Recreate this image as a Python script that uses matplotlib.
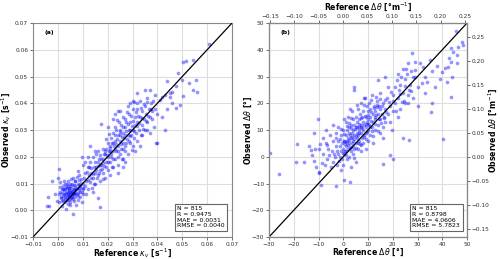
import matplotlib
matplotlib.use("Agg")
import matplotlib.pyplot as plt

# ---------------- data ----------------
# panel (a): kappa_v points, in units of 1e-3 s^-1 (reference, observed)
kv_pts_milli = [
    (-4.5, 1.6), (-3.5, 1.6), (-4.1, 5.1), (-2.2, 10.9), (0.6, 15.4), (-1.0, 6.0), (-0.5, 3.5),
    (0.5, 6), (1, 7), (1.2, 5), (1.5, 8), (1.8, 6.5), (2, 4), (2, 9), (2.3, 6), (2.5, 7.5),
    (2.8, 5), (3, 3), (3, 8), (3.2, 6.5), (3.5, 10), (3.5, 5), (3.8, 7), (4, 4), (4, 6),
    (4, 9), (4.2, 11), (4.5, 5.5), (4.5, 7.5), (4.8, 3), (5, 6), (5, 8.5), (5.2, 4.5),
    (5.5, 7), (5.5, 10), (5.8, 5), (6, 6), (6, 12), (6.2, 8), (6.5, 3.5), (6.5, 6.5),
    (6.8, 9), (7, 5), (7, 7.5), (7, 11), (7.3, 2), (7.5, 6), (7.8, 8.5), (8, 4), (8, 10),
    (8.2, 6.5), (8.5, 13), (8.5, 7.5), (9, 5), (9, 9), (9.3, 11.5), (9.5, 7), (9.8, 3),
    (10, 10), (10, 6), (1, 10.5), (0.3, 3), (2.5, 11), (5, 2), (6, -1.5), (3.3, 0.5),
    (1.5, 1.5), (0.2, 12), (3, 6), (4.5, 6.5), (5.5, 5.5), (6.5, 8), (2, 5.5), (7, 6.5),
    (3.8, 8.3), (4.8, 9.8), (5.8, 7.2), (8.8, 8.2),
    (1.5, 3.5), (2.2, 7.8), (2.7, 4.2), (3.4, 8.8), (3.9, 5.2), (4.3, 7.2), (4.7, 4.2),
    (5.1, 9.2), (5.6, 6.2), (6.1, 4.2), (6.4, 9.6), (6.9, 6.1), (7.4, 8.1), (7.9, 5.4),
    (8.4, 9.4), (8.9, 6.7), (9.4, 10.2), (9.9, 8.4), (2.9, 9.7), (1.3, 4.5), (4.1, 2.2),
    (5.4, 11.5), (7.6, 12.5), (10.3, 8.1), (3.6, 3.9), (6.7, 10.8), (0.9, 8.8), (8.6, 11.3),
    (5.3, 6.9), (4.4, 8.4),
    (10.5, 12), (11, 9), (11, 14), (11.5, 11), (12, 8), (12, 16), (12.5, 13), (13, 10.5),
    (13, 18), (13.5, 14), (14, 12), (14, 20), (14.5, 16), (15, 10), (15, 14), (15, 18),
    (15.5, 21), (16, 13), (16, 16.5), (16.5, 19), (17, 11), (17, 15), (17, 20.5),
    (17.5, 17), (18, 14), (18, 19), (18, 23), (18.5, 16.5), (19, 21), (19, 12), (19.5, 18),
    (20, 15), (20, 20), (20, 25), (12, 20), (16, 4.5), (17, 1.3), (14, 7), (11, 18),
    (13, 24), (17.3, 32.1), (9.5, 20), (8, 14.5), (10, 17), (11.5, 6), (13.5, 12),
    (14.5, 10), (15.5, 15), (16.5, 14), (18.5, 21), (12.5, 16), (19.5, 23),
    (12.3, 11.2), (13.2, 15.7), (14.3, 13.7), (15.2, 16.2), (15.8, 12.2), (16.3, 18.2),
    (16.8, 16.8), (17.3, 19.3), (17.8, 15.3), (18.3, 17.7), (18.8, 22.1), (19.3, 16.1),
    (19.8, 20.8), (14.8, 22.3), (11.8, 14.2), (13.7, 8.3), (16.2, 22.1), (18.1, 11.6),
    (20.5, 22), (21, 18), (21, 24), (21.5, 20), (21.5, 27), (22, 16), (22, 22), (22, 29),
    (22.5, 24), (23, 19), (23, 26), (23, 31), (23.5, 22), (24, 17), (24, 24), (24, 28),
    (24.5, 33), (25, 21), (25, 26), (25, 30), (25.5, 23), (26, 19), (26, 25), (26, 29),
    (26, 35), (26.5, 27), (27, 22), (27, 31), (27.5, 25), (27.5, 33), (28, 28), (28, 21),
    (28.5, 30), (28.5, 36), (29, 25), (29, 33), (29.5, 28), (30, 24), (30, 30), (30, 38),
    (22, 34), (25, 37), (21, 13), (24, 14), (27, 18), (29, 40), (20, 31), (23, 36),
    (26, 16), (28, 39), (22, 25), (24, 20), (25, 28), (27, 28), (21, 22), (23, 23),
    (26, 23), (29, 30), (24.2, 37.1), (23.5, 30), (27, 34), (25.5, 32), (28.5, 26),
    (20.3, 18.2), (20.8, 23.3), (21.3, 21.2), (21.8, 25.3), (22.3, 19.3), (22.8, 28.2),
    (23.3, 24.7), (23.8, 26.5), (24.3, 22.2), (24.8, 29.3), (25.3, 24.6), (25.8, 27.4),
    (26.3, 31.2), (26.8, 24.1), (27.3, 29.6), (27.8, 26.8), (28.3, 32.2), (28.8, 27.8),
    (29.3, 35.1), (29.8, 31.6), (19.2, 26.8), (21.6, 16.2), (23.6, 33.8), (25.6, 19.1),
    (27.6, 36.8), (29.6, 22.4), (20.6, 28.6),
    (30.5, 27), (31, 32), (31, 35), (31.5, 29), (32, 26), (32, 33), (32, 38), (32.5, 30),
    (33, 35), (33, 41), (33.5, 28), (34, 32), (34, 37), (34.5, 34), (35, 30), (35, 39),
    (35.5, 36), (36, 33), (36, 42), (36.5, 38), (37, 29), (37, 35), (37.5, 40), (38, 34),
    (38, 37), (38.5, 31), (39, 38), (39, 43), (39.5, 25), (40, 36), (31, 22), (33, 24),
    (35, 45), (37, 45), (34, 28), (36, 30), (30, 41), (32, 44), (30.7, 40.6), (32, 40.2),
    (30.3, 33.4), (30.8, 29.8), (31.3, 36.8), (31.8, 31.4), (32.3, 35.2), (32.8, 32.6),
    (33.3, 38.2), (33.8, 34.6), (34.3, 30.2), (34.8, 39.6), (35.3, 33.3), (35.8, 40.4),
    (36.3, 35.4), (37.3, 37.8), (38.3, 40.8),
    (40, 25), (41, 41.2), (42, 42.5), (43, 30), (44, 48.3), (44, 38), (45, 44),
    (45.9, 44.1), (45.1, 42.2), (47.5, 46.4), (48.4, 51.2), (49.1, 39.3), (49.8, 48.7),
    (50.4, 55.3), (51.4, 55.8), (54.2, 56.1), (52.9, 47.5), (55.5, 48.7), (55.8, 44.3),
    (54.2, 44.9), (50.2, 42.7), (47.5, 38.3), (60.8, 62.3), (42, 35), (43, 43), (46, 40),
]
kv_unit = 1e-3
kv_ref = [p[0] * kv_unit for p in kv_pts_milli]
kv_obs = [p[1] * kv_unit for p in kv_pts_milli]

# panel (b): delta-theta points in degrees (reference, observed)
dth_pts = [
    (-29.5, 1.3), (-26, -6.6), (-19, -2), (-18.6, 4.6), (-14, 4), (-13, 2.5), (-12.5, 0.5),
    (-12, -1.5), (-11.5, 3), (-11, -4), (-10, -6), (-9.5, 4.6), (-9.7, 2.9), (-9, -10.6),
    (-9.8, -5.8), (-8, 1), (-7.5, -3), (-7, 5), (-6.5, -1), (-6, 3), (-5.5, 8), (-5, -4),
    (-10.3, 14), (-12, 9), (-7, 10), (-3, -11), (0.4, -8.7), (2.7, -9.6), (-16, -2),
    (-4, 12), (-8, 7), (-6.5, 4.3), (-8.5, -2.2), (-5.8, 0.6),
    (-4.5, 2), (-4, 6), (-4, -2), (-3.5, 0), (-3, 4), (-3, 9), (-2.5, -3), (-2.5, 2),
    (-2, 6), (-2, 11), (-1.5, 0), (-1.5, 4), (-1, -5), (-1, 8), (-1, 2), (-0.5, 5),
    (-0.5, -1), (0, 3), (0, 10), (0, -3),
    (-2.2, 1.2), (-1.2, 6.8), (-0.2, 1.5), (-3.8, 1.2), (-2.8, 7.2), (-1.8, -1.4),
    (-0.8, 10.4),
    (0.5, 6), (0.5, 1), (1, 4), (1, 8), (1, 13), (1.5, -1), (1.5, 6), (1.5, 10), (2, 3),
    (2, 7), (2, 15), (2.5, 5), (2.5, 0), (2.5, 9), (3, 2), (3, 7), (3, 12), (3, -4),
    (3.5, 5), (3.5, 9), (3.5, 17), (4, 1), (4, 6), (4, 10), (4, 14), (4.5, 3), (4.5, 8),
    (4.5, 26), (4.5, 25), (5, 5), (5, 11), (5, -2), (5, 15), (1.2, 5.5), (2.2, 11),
    (3.2, 3.5), (0.8, 2), (2.8, 8), (4.2, 12), (1.8, 4.5), (3.7, 7.5),
    (0.3, 8.4), (0.7, 4.7), (1.3, 2.3), (1.7, 11.5), (2.3, 6.2), (2.7, 3.4), (3.3, 10.6),
    (3.8, 4.1), (4.3, 6.8), (4.7, 10.2), (0.2, 5.8), (1.2, 0.6), (2.2, 12.6), (3.2, 14.4),
    (4.2, -0.6), (2.6, 17.8), (0.4, 14.2),
    (5.5, 7), (5.5, 9), (5.5, 13), (6, 3), (6, 8), (6, 18), (6.5, 6), (6.5, 11),
    (6.5, 14), (7, 2), (7, 9), (7, 12), (7, 20), (7.5, 7), (7.5, 15), (8, 5), (8, 10),
    (8, 13), (8, 17), (8.5, 8), (8.5, 22), (9, 11), (9, 15), (9, 3), (9.5, 13), (9.5, 19),
    (10, 6), (10, 10), (10, 14), (10, 17), (8.8, 21.8), (6.2, 10), (7.2, 11),
    (5.8, 5), (8.2, 12), (9.2, 9), (6.8, 16),
    (5.2, 7.6), (5.7, 11.2), (6.3, 8.9), (6.7, 4.6), (7.2, 14.4), (7.7, 10.8), (8.3, 7.3),
    (8.7, 15.2), (9.3, 12.4), (9.7, 9.1), (5.2, 3.1), (6.2, 12.2), (7.2, 4.3), (8.2, 19.2),
    (9.2, 6.8), (5.6, 19.4),
    (10.5, 12), (10.5, 20), (11, 8), (11, 15), (11, 18), (11.5, 11), (11.5, 23), (12, 13),
    (12, 16), (12, 5), (12.5, 19), (13, 10), (13, 14), (13, 17), (13.5, 21), (14, 12),
    (14, 16), (14.2, 28.7), (14.5, 19), (15, 9), (15, 14), (15, 18), (15, 24),
    (11.2, 13.5), (12.8, 15), (13.8, 18.5),
    (10.2, 15.8), (10.7, 11.3), (11.3, 16.7), (11.8, 9.6), (12.3, 18.2), (12.7, 12.2),
    (13.3, 15.6), (13.7, 19.4), (14.3, 14.3), (14.7, 21.6), (10.2, 12.4), (11.2, 21.2),
    (12.2, 7.9), (13.2, 22.4), (14.2, 9.6),
    (15.5, 16), (16, -2.8), (16, 11), (16, 20), (16.5, 15), (17, 18), (17, 13), (17.5, 22),
    (18, 16), (18, 26), (18.9, 0.7), (19, 19), (19, 13), (20.2, -1), (20, 17), (20, 23),
    (19.5, 10), (17, 30), (16, 7),
    (15.3, 12.6), (15.8, 18.8), (16.3, 14.4), (16.8, 21.3), (17.3, 16.9), (18.3, 20.6),
    (19.3, 24.3),
    (21, 20), (21, 26), (22, 15), (22, 22), (22, 31), (23, 18), (23, 27), (24, 24),
    (24.3, 7), (24, 33), (25, 20), (25, 29), (26, 23), (26.7, 6.3), (26, 35), (27, 27),
    (27.7, 38.7), (28, 22), (28.3, 29.9), (29, 35.5), (29, 30), (30.3, 26.2), (30, 19),
    (22.5, 25), (23.5, 30), (25.5, 33), (26.5, 25), (24.5, 21), (27.5, 32),
    (20.3, 20.8), (21.3, 17.2), (21.8, 28.6), (22.8, 23.6), (23.8, 20.6), (24.8, 26.6),
    (25.8, 30.8), (26.3, 20.2), (27.3, 24.6), (28.8, 32.6),
    (31, 34.9), (31.7, 27.5), (32.3, 33.7), (33, 30), (33, 24), (34, 28), (35, 36),
    (35.5, 16.8), (36, 32), (37, 26), (38, 34), (39, 29), (39.8, 31.8), (40.2, 6.6),
    (36, 20),
    (41.1, 33.2), (42.2, 33.7), (42.7, 36.8), (43.4, 35.5), (43.4, 22.4), (43.5, 40.5),
    (44.5, 39.3), (45.4, 47), (45.8, 38), (46.5, 41.1), (48, 43), (48.5, 41.8), (44, 30),
    (46, 35), (42, 28),
]
dth_ref = [p[0] for p in dth_pts]
dth_obs = [p[1] for p in dth_pts]

kv_ticks = [-0.01, 0.00, 0.01, 0.02, 0.03, 0.04, 0.05, 0.06, 0.07]
dth_ticks = [-30, -20, -10, 0, 10, 20, 30, 40, 50]
dth_m_xticks = [-0.15, -0.10, -0.05, 0.00, 0.05, 0.10, 0.15, 0.20, 0.25]
dth_m_yticks = [-0.15, -0.10, -0.05, 0.00, 0.05, 0.10, 0.15, 0.20, 0.25]
dth_m_xlim = (-0.152, 0.254)
dth_m_ylim = (-0.167, 0.278)

stats_a = "N = 815\nR = 0.9475\nMAE = 0.0031\nRMSE = 0.0040"
stats_b = "N = 815\nR = 0.8798\nMAE = 4.0606\nRMSE = 5.7823"

# ---------------- plotting ----------------
fig = plt.figure(figsize=(5.0, 2.59), dpi=100)
axa = fig.add_axes([0.066, 0.085, 0.398, 0.826])
axb = fig.add_axes([0.538, 0.085, 0.396, 0.826])

tick_fs = 4.2
lab_fs = 5.6
pt_color = "#0000ff"
pt_size = 7
pt_alpha = 0.42


def fmt(vals):
    return [f"{t:.2f}".replace("-", "\u2212") for t in vals]


def style(ax):
    ax.grid(True, color="#dddddd", lw=0.8)
    ax.set_axisbelow(True)
    ax.tick_params(labelsize=tick_fs, length=2, width=0.5, pad=1.5, colors="#333333")
    for s in ax.spines.values():
        s.set_color("#888888")
        s.set_linewidth(0.8)


# (a)
axa.scatter(kv_ref, kv_obs, s=pt_size, color=pt_color, alpha=pt_alpha, linewidths=0, zorder=2)
axa.plot([kv_ticks[0], kv_ticks[-1]], [kv_ticks[0], kv_ticks[-1]], color="black", lw=0.9, zorder=3)
axa.set_xlim(kv_ticks[0], kv_ticks[-1])
axa.set_ylim(kv_ticks[0], kv_ticks[-1])
axa.set_xticks(kv_ticks)
axa.set_yticks(kv_ticks)
axa.set_xticklabels(fmt(kv_ticks))
axa.set_yticklabels(fmt(kv_ticks))
style(axa)
axa.set_xlabel(r"Reference $\kappa_v$ [s$^{-1}$]", fontsize=lab_fs, fontweight="bold")
axa.set_ylabel(r"Observed $\kappa_v$ [s$^{-1}$]", fontsize=lab_fs, fontweight="bold")
axa.xaxis.set_label_coords(0.5, -0.045)
axa.yaxis.set_label_coords(-0.10, 0.5)
axa.text(0.06, 0.955, "(a)", transform=axa.transAxes, fontsize=4.5, fontweight="bold",
         ha="left", va="center")
axa.text(0.965, 0.04, stats_a, transform=axa.transAxes, fontsize=4.4, ha="right", va="bottom",
         multialignment="left", linespacing=1.2,
         bbox=dict(boxstyle="square,pad=0.4", fc="white", ec="#666666", lw=0.8))

# (b)
axb.scatter(dth_ref, dth_obs, s=pt_size, color=pt_color, alpha=pt_alpha, linewidths=0, zorder=2)
axb.plot([dth_ticks[0], dth_ticks[-1]], [dth_ticks[0], dth_ticks[-1]], color="black", lw=0.9, zorder=3)
axb.set_xlim(dth_ticks[0], dth_ticks[-1])
axb.set_ylim(dth_ticks[0], dth_ticks[-1])
axb.set_xticks(dth_ticks)
axb.set_yticks(dth_ticks)
axb.set_xticklabels([str(t).replace("-", "\u2212") for t in dth_ticks])
axb.set_yticklabels([str(t).replace("-", "\u2212") for t in dth_ticks])
style(axb)
axb.set_xlabel(r"Reference $\Delta\theta$ [°]", fontsize=lab_fs, fontweight="bold")
axb.set_ylabel(r"Observed $\Delta\theta$ [°]", fontsize=lab_fs, fontweight="bold")
axb.xaxis.set_label_coords(0.5, -0.045)
axb.yaxis.set_label_coords(-0.076, 0.5)
axb.text(0.06, 0.955, "(b)", transform=axb.transAxes, fontsize=4.5, fontweight="bold",
         ha="left", va="center")
axb.text(0.965, 0.04, stats_b, transform=axb.transAxes, fontsize=4.4, ha="right", va="bottom",
         multialignment="left", linespacing=1.2,
         bbox=dict(boxstyle="square,pad=0.4", fc="white", ec="#666666", lw=0.8))

axt = axb.twiny()
axt.set_xlim(*dth_m_xlim)
axt.set_xticks(dth_m_xticks)
axt.set_xticklabels(fmt(dth_m_xticks))
axt.tick_params(labelsize=tick_fs, length=2, width=0.5, pad=1.0, colors="#333333")
axt.set_xlabel(r"Reference $\Delta\theta$ [°m$^{-1}$]", fontsize=lab_fs, fontweight="bold")
axt.xaxis.set_label_coords(0.5, 1.062)

axr = axb.twinx()
axr.set_ylim(*dth_m_ylim)
axr.set_yticks(dth_m_yticks)
axr.set_yticklabels(fmt(dth_m_yticks))
axr.tick_params(labelsize=tick_fs, length=2, width=0.5, pad=1.5, colors="#333333")
axr.set_ylabel(r"Observed $\Delta\theta$ [°m$^{-1}$]", fontsize=lab_fs, fontweight="bold")
axr.yaxis.set_label_coords(1.10, 0.5)
for a in (axt, axr):
    for s in a.spines.values():
        s.set_color("#888888")
        s.set_linewidth(0.8)

fig.savefig("out.png", dpi=100)
